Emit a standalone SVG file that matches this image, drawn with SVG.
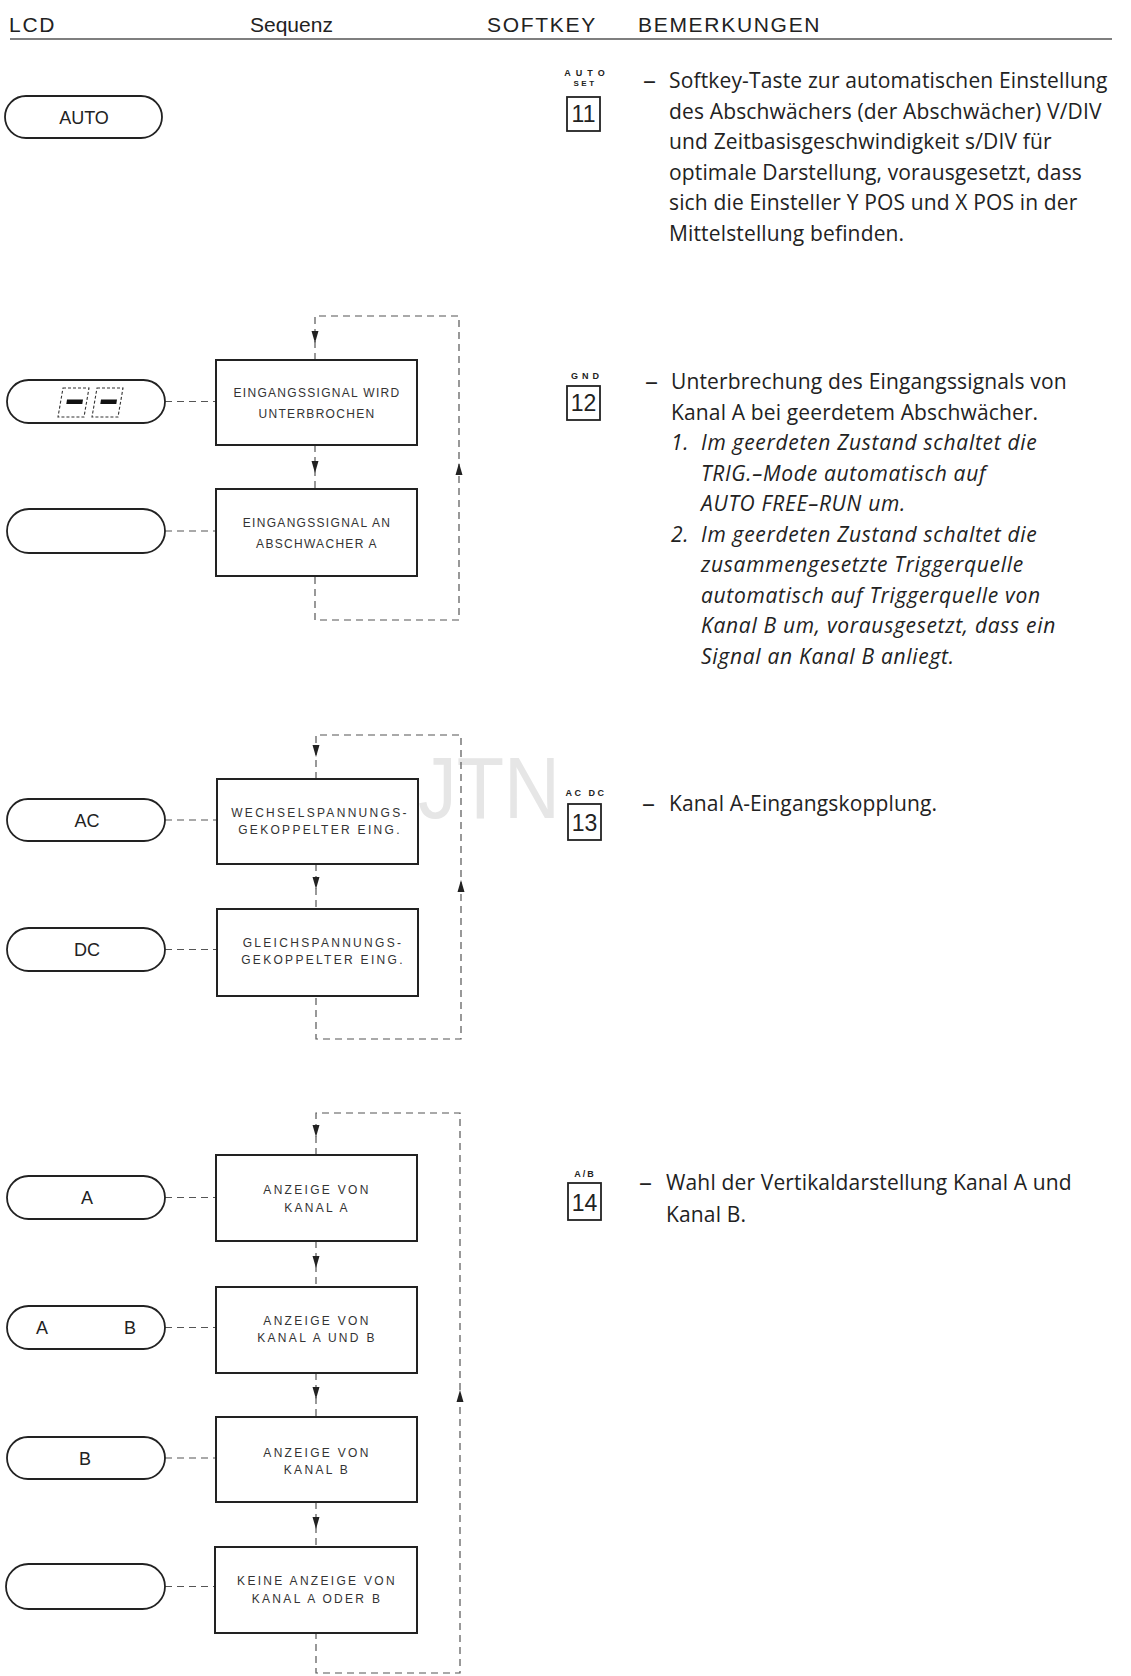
<svg xmlns="http://www.w3.org/2000/svg" width="1131" height="1676" viewBox="0 0 1131 1676">
<defs>
<style>
.hdr{font-family:"Liberation Sans",Arial,sans-serif;font-size:21px;fill:#222}
.cap{letter-spacing:1.7px}
.pill{fill:#fff;stroke:#222;stroke-width:1.8}
.ptxt{font-family:"Liberation Sans",Arial,sans-serif;font-size:18px;fill:#222;text-anchor:middle}
.box{fill:#fff;stroke:#222;stroke-width:2}
.btxt{font-family:"Liberation Sans",Arial,sans-serif;font-size:12px;fill:#333;text-anchor:middle}
.ls1{letter-spacing:1.3px}
.ls2{letter-spacing:2.3px}
.dash{fill:none;stroke:#555;stroke-width:1.2;stroke-dasharray:7 5}
.sk{fill:#fff;stroke:#222;stroke-width:1.8}
.sknum{font-family:"Liberation Sans",Arial,sans-serif;font-size:23px;fill:#222;text-anchor:middle}
.sklbl{font-family:"Liberation Sans",Arial,sans-serif;font-size:9px;font-weight:bold;fill:#222;text-anchor:middle}
.desc{font-family:"Open Sans","Liberation Sans",sans-serif;font-size:21px;fill:#222;letter-spacing:0.15px}
.it{font-style:italic;letter-spacing:0.7px}
.en{font-size:26px}
</style>
<path id="ad" d="M-3.5,-7 L3.5,-7 L0,5 Z" fill="#222"/>
<path id="au" d="M-3.5,7 L3.5,7 L0,-5 Z" fill="#222"/>
</defs>
<rect width="1131" height="1676" fill="#fff"/>

<text transform="translate(418,818) scale(0.88,1)" x="0" y="0" font-family="Liberation Sans,Arial,sans-serif" font-size="88" fill="#e6e6e6">JTN</text>

<g id="header">
<text class="hdr cap" x="9" y="32">LCD</text>
<text class="hdr" x="250" y="32">Sequenz</text>
<text class="hdr cap" x="487" y="32">SOFTKEY</text>
<text class="hdr cap" x="638" y="32">BEMERKUNGEN</text>
<line x1="10" y1="39" x2="1112" y2="39" stroke="#555" stroke-width="1.6"/>
</g>

<g id="connectors">
<!-- section 2 -->
<path class="dash" d="M315,360 V316 H459 V620 H315 V576 M315,445 V489"/>
<path class="dash" d="M165,401.5 H216 M165,531 H216"/>
<use href="#ad" x="315" y="338"/>
<use href="#ad" x="315" y="468"/>
<use href="#au" x="459" y="468"/>
<!-- section 3 -->
<path class="dash" d="M316,779 V735 H461 V1039 H316 V996 M316,864 V909"/>
<path class="dash" d="M165,820 H216 M165,949.5 H216"/>
<use href="#ad" x="316" y="752"/>
<use href="#ad" x="316" y="884"/>
<use href="#au" x="461" y="885"/>
<!-- section 4 -->
<path class="dash" d="M316,1155 V1113 H460 V1673 H316 V1633 M316,1241 V1287 M316,1373 V1417 M316,1502 V1547"/>
<path class="dash" d="M165,1197.5 H216 M165,1327.5 H216 M165,1458 H216 M165,1586.5 H216"/>
<use href="#ad" x="316" y="1132"/>
<use href="#ad" x="316" y="1263"/>
<use href="#ad" x="316" y="1394"/>
<use href="#ad" x="316" y="1524"/>
<use href="#au" x="460" y="1395"/>
</g>

<!-- Section 1 -->
<g id="lcd-auto">
<rect class="pill" x="5" y="96" width="157" height="42" rx="21"/>
<text class="ptxt" x="84" y="124">AUTO</text>
</g>
<g id="softkey-11">
<text class="sklbl" x="587" y="76" style="letter-spacing:5px">AUTO</text>
<text class="sklbl" x="585" y="86" style="font-size:8px;letter-spacing:2.5px">SET</text>
<rect class="sk" x="567" y="97" width="33" height="34"/>
<text class="sknum" x="583.5" y="122">11</text>
</g>
<g id="desc-11" class="desc">
<text class="en" x="643" y="89">–</text>
<text x="669" y="88">Softkey-Taste zur automatischen Einstellung</text>
<text x="669" y="118.5">des Abschwächers (der Abschwächer) V/DIV</text>
<text x="669" y="149">und Zeitbasisgeschwindigkeit s/DIV für</text>
<text x="669" y="179.5">optimale Darstellung, vorausgesetzt, dass</text>
<text x="669" y="210">sich die Einsteller Y POS und X POS in der</text>
<text x="669" y="240.5">Mittelstellung befinden.</text>
</g>

<!-- Section 2 -->
<g id="lcd-gnd">
<rect class="pill" x="7" y="380" width="158" height="43" rx="21.5"/>
<g fill="none" stroke="#333" stroke-width="1.1" stroke-dasharray="3 2">
<path d="M63,388 H89 L84,417 H58 Z"/>
<path d="M97,388 H123 L118,417 H92 Z"/>
</g>
<path d="M67,399.5 H83 L82.3,404 H66.3 Z" fill="#111"/>
<path d="M101,399.5 H117 L116.3,404 H100.3 Z" fill="#111"/>
</g>
<g id="lcd-blank-1">
<rect class="pill" x="7" y="509" width="158" height="44" rx="22"/>
</g>
<g id="seq-unterbrochen">
<rect class="box" x="216" y="360" width="201" height="85"/>
<text class="btxt ls1" x="317" y="396.5">EINGANGSSIGNAL WIRD</text>
<text class="btxt ls1" x="317" y="417.5">UNTERBROCHEN</text>
</g>
<g id="seq-abschwacher">
<rect class="box" x="216" y="489" width="201" height="87"/>
<text class="btxt ls1" x="317" y="526.5">EINGANGSSIGNAL AN</text>
<text class="btxt ls1" x="317" y="547.5">ABSCHWACHER A</text>
</g>
<g id="softkey-12">
<text class="sklbl" x="587" y="378.5" style="letter-spacing:4px">GND</text>
<rect class="sk" x="567" y="386" width="33" height="34"/>
<text class="sknum" x="583.5" y="411">12</text>
</g>
<g id="desc-12" class="desc">
<text class="en" x="645" y="390">–</text>
<text x="671" y="389">Unterbrechung des Eingangssignals von</text>
<text x="671" y="419.5">Kanal A bei geerdetem Abschwächer.</text>
<text class="it" x="671" y="450">1.</text>
<text class="it" x="701" y="450">Im geerdeten Zustand schaltet die</text>
<text class="it" x="701" y="480.5">TRIG.–Mode automatisch auf</text>
<text class="it" x="701" y="511">AUTO FREE–RUN um.</text>
<text class="it" x="671" y="541.5">2.</text>
<text class="it" x="701" y="541.5">Im geerdeten Zustand schaltet die</text>
<text class="it" x="701" y="572">zusammengesetzte Triggerquelle</text>
<text class="it" x="701" y="602.5">automatisch auf Triggerquelle von</text>
<text class="it" x="701" y="633">Kanal B um, vorausgesetzt, dass ein</text>
<text class="it" x="701" y="663.5">Signal an Kanal B anliegt.</text>
</g>

<!-- Section 3 -->
<g id="lcd-ac">
<rect class="pill" x="7" y="799" width="158" height="42" rx="21"/>
<text class="ptxt" x="87" y="827">AC</text>
</g>
<g id="lcd-dc">
<rect class="pill" x="7" y="928" width="158" height="43" rx="21.5"/>
<text class="ptxt" x="87" y="956">DC</text>
</g>
<g id="seq-wechsel">
<rect class="box" x="217" y="779" width="201" height="85"/>
<text class="btxt ls2" x="320" y="816.5">WECHSELSPANNUNGS-</text>
<text class="btxt ls2" x="320" y="833.5">GEKOPPELTER EING.</text>
</g>
<g id="seq-gleich">
<rect class="box" x="217" y="909" width="201" height="87"/>
<text class="btxt ls2" x="323" y="946.5">GLEICHSPANNUNGS-</text>
<text class="btxt ls2" x="323" y="963.5">GEKOPPELTER EING.</text>
</g>
<g id="softkey-13">
<text class="sklbl" x="586" y="796" style="letter-spacing:2.5px">AC DC</text>
<rect class="sk" x="568" y="804" width="33" height="36"/>
<text class="sknum" x="584.5" y="831">13</text>
</g>
<g id="desc-13" class="desc">
<text class="en" x="642" y="812">–</text>
<text x="669" y="811">Kanal A-Eingangskopplung.</text>
</g>

<!-- Section 4 -->
<g id="lcd-a">
<rect class="pill" x="7" y="1176" width="158" height="43" rx="21.5"/>
<text class="ptxt" x="87" y="1204">A</text>
</g>
<g id="lcd-ab">
<rect class="pill" x="7" y="1306" width="158" height="43" rx="21.5"/>
<text class="ptxt" x="42" y="1334">A</text>
<text class="ptxt" x="130" y="1334">B</text>
</g>
<g id="lcd-b">
<rect class="pill" x="7" y="1437" width="158" height="42" rx="21"/>
<text class="ptxt" x="85" y="1465">B</text>
</g>
<g id="lcd-blank-2">
<rect class="pill" x="6" y="1564" width="159" height="45" rx="22.5"/>
</g>
<g id="seq-kanal-a">
<rect class="box" x="216" y="1155" width="201" height="86"/>
<text class="btxt ls2" x="317" y="1193.5">ANZEIGE VON</text>
<text class="btxt ls2" x="317" y="1211.5">KANAL A</text>
</g>
<g id="seq-kanal-ab">
<rect class="box" x="216" y="1287" width="201" height="86"/>
<text class="btxt ls2" x="317" y="1324.5">ANZEIGE VON</text>
<text class="btxt ls2" x="317" y="1341.5">KANAL A UND B</text>
</g>
<g id="seq-kanal-b">
<rect class="box" x="216" y="1417" width="201" height="85"/>
<text class="btxt ls2" x="317" y="1456.5">ANZEIGE VON</text>
<text class="btxt ls2" x="317" y="1473.5">KANAL B</text>
</g>
<g id="seq-keine">
<rect class="box" x="215" y="1547" width="202" height="86"/>
<text class="btxt ls2" x="317" y="1584.5">KEINE ANZEIGE VON</text>
<text class="btxt ls2" x="317" y="1602.5">KANAL A ODER B</text>
</g>
<g id="softkey-14">
<text class="sklbl" x="585" y="1177" style="letter-spacing:2px">A/B</text>
<rect class="sk" x="568" y="1183" width="33" height="37"/>
<text class="sknum" x="584.5" y="1211">14</text>
</g>
<g id="desc-14" class="desc">
<text class="en" x="639" y="1191">–</text>
<text x="666" y="1190">Wahl der Vertikaldarstellung Kanal A und</text>
<text x="666" y="1222">Kanal B.</text>
</g>
</svg>
